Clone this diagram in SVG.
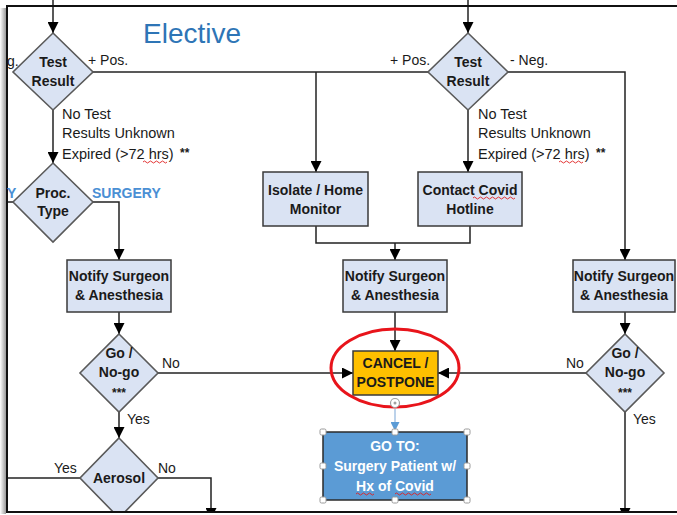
<svg xmlns="http://www.w3.org/2000/svg" width="677" height="515" viewBox="0 0 677 515">
<defs>
<style>
.box{fill:#DAE3F3;stroke:#3a3a3a;stroke-width:1.5}
.dia{fill:#DAE3F3;stroke:#595959;stroke-width:1.6}
.c{fill:none;stroke:#222;stroke-width:1.5}
.b{font-family:"Liberation Sans",Arial,sans-serif;font-weight:bold;font-size:14px;fill:#1a1a1a;text-anchor:middle}
.t{font-family:"Liberation Sans",Arial,sans-serif;font-size:14px;fill:#1a1a1a}
.tl{font-family:"Liberation Sans",Arial,sans-serif;font-size:14.5px;fill:#1a1a1a}
.ast{font-family:"Liberation Sans",Arial,sans-serif;font-weight:bold;font-size:12px;fill:#1a1a1a}
.sq{fill:none;stroke:#e02020;stroke-width:0.9}
.h{fill:#fff;stroke:#9a9a9a;stroke-width:1}
</style>
<marker id="ah" viewBox="0 0 10 10" refX="10" refY="5" markerWidth="11" markerHeight="11" markerUnits="userSpaceOnUse" orient="auto">
<path d="M0,0 L10,5 L0,10 z" fill="#000"/>
</marker>
<marker id="ahb" viewBox="0 0 10 10" refX="10" refY="5" markerWidth="9" markerHeight="9" markerUnits="userSpaceOnUse" orient="auto">
<path d="M0,0 L10,5 L0,10 z" fill="#5B9BD5"/>
</marker>
<linearGradient id="shadow" x1="0" y1="0" x2="1" y2="0">
<stop offset="0" stop-color="#ffffff"/>
<stop offset="1" stop-color="#9a9a9a"/>
</linearGradient>
</defs>
<rect width="677" height="515" fill="#fff"/>

<g id="connectors">
<path class="c" d="M53,0 V33" marker-end="url(#ah)"/>
<path class="c" d="M468,0 V33" marker-end="url(#ah)"/>
<path class="c" d="M93,72 H428"/>
<path class="c" d="M316,72 V172" marker-end="url(#ah)"/>
<path class="c" d="M508,72 H625 V260" marker-end="url(#ah)"/>
<path class="c" d="M53,110 V163" marker-end="url(#ah)"/>
<path class="c" d="M468,110 V172" marker-end="url(#ah)"/>
<path class="c" d="M316,226 V243 H470 V226"/>
<path class="c" d="M395,243 V260" marker-end="url(#ah)"/>
<path class="c" d="M93,202 H119 V260" marker-end="url(#ah)"/>
<path class="c" d="M7,202 H13"/>
<path class="c" d="M119,312 V334" marker-end="url(#ah)"/>
<path class="c" d="M158,373 H353" marker-end="url(#ah)"/>
<path class="c" d="M119,412 V438" marker-end="url(#ah)"/>
<path class="c" d="M80,478 H7"/>
<path class="c" d="M158,478 H211 V519" marker-end="url(#ah)"/>
<path class="c" d="M395,312 V351" marker-end="url(#ah)"/>
<path class="c" d="M625,312 V334" marker-end="url(#ah)"/>
<path class="c" d="M586,373 H438" marker-end="url(#ah)"/>
<path class="c" d="M625,412 V519" marker-end="url(#ah)"/>
<path d="M395,409 V431" fill="none" stroke="#8fb4dd" stroke-width="1.2" marker-end="url(#ahb)"/>
</g>

<g id="title">
<text x="143" y="43" font-family="'Liberation Sans',Arial,sans-serif" font-size="28" fill="#2E75B6">Elective</text>
</g>

<g id="test-result-left">
<polygon class="dia" points="53,33 93,72 53,110 13,72"/>
<text class="b" x="53" y="67">Test</text>
<text class="b" x="53" y="86">Result</text>
<text class="t" x="88" y="65">+ Pos.</text>
<text class="tl" x="62" y="119">No Test</text>
<text class="tl" x="62" y="138">Results Unknown</text>
<text class="tl" x="62" y="159">Expired (&gt;72 hrs)</text>
<text class="ast" x="180" y="157">**</text>
<path class="sq" d="M143,162 q1.5,-2 3,0 t3,0 t3,0 t3,0 t3,0 t3,0 t3,0 t3,0"/>
</g>

<g id="test-result-right">
<polygon class="dia" points="468,33 508,72 468,110 428,72"/>
<text class="b" x="468" y="67">Test</text>
<text class="b" x="468" y="86">Result</text>
<text class="t" x="390" y="65">+ Pos.</text>
<text class="t" x="510" y="65">- Neg.</text>
<text class="tl" x="478" y="119">No Test</text>
<text class="tl" x="478" y="138">Results Unknown</text>
<text class="tl" x="478" y="159">Expired (&gt;72 hrs)</text>
<text class="ast" x="596" y="157">**</text>
<path class="sq" d="M559,162 q1.5,-2 3,0 t3,0 t3,0 t3,0 t3,0 t3,0 t3,0 t3,0"/>
</g>

<g id="proc-type">
<polygon class="dia" points="53,163 93,202 53,242 13,202"/>
<text class="b" x="53" y="198">Proc.</text>
<text class="b" x="53" y="216">Type</text>
<text x="92" y="198" font-family="'Liberation Sans',Arial,sans-serif" font-weight="bold" font-size="14" fill="#4A8FD4">SURGERY</text>
</g>

<g id="isolate">
<rect class="box" x="263" y="172" width="105" height="54"/>
<text class="b" x="315.5" y="195">Isolate / Home</text>
<text class="b" x="315.5" y="214">Monitor</text>
</g>

<g id="contact-hotline">
<rect class="box" x="418" y="172" width="104" height="54"/>
<text class="b" x="470" y="195">Contact Covid</text>
<text class="b" x="470" y="214">Hotline</text>
<path class="sq" d="M473,198 q1.5,-2 3,0 t3,0 t3,0 t3,0 t3,0 t3,0 t3,0 t3,0 t3,0 t3,0 t3,0 t3,0 t3,0 t3,0"/>
</g>

<g id="notify-left">
<rect class="box" x="67" y="260" width="104" height="52"/>
<text class="b" x="119" y="281">Notify Surgeon</text>
<text class="b" x="119" y="300">&amp; Anesthesia</text>
</g>

<g id="notify-mid">
<rect class="box" x="343" y="260" width="104" height="52"/>
<text class="b" x="395" y="281">Notify Surgeon</text>
<text class="b" x="395" y="300">&amp; Anesthesia</text>
</g>

<g id="notify-right">
<rect class="box" x="573" y="260" width="102" height="52"/>
<text class="b" x="624" y="281">Notify Surgeon</text>
<text class="b" x="624" y="300">&amp; Anesthesia</text>
</g>

<g id="go-nogo-left">
<polygon class="dia" points="119,334 158,373 119,412 80,373"/>
<text class="b" x="119" y="358">Go /</text>
<text class="b" x="119" y="377">No-go</text>
<text class="ast" x="119" y="397" text-anchor="middle">***</text>
<text class="t" x="162" y="368">No</text>
<text class="t" x="127" y="424">Yes</text>
</g>

<g id="go-nogo-right">
<polygon class="dia" points="625,334 664,373 625,412 586,373"/>
<text class="b" x="625" y="358">Go /</text>
<text class="b" x="625" y="377">No-go</text>
<text class="ast" x="625" y="397" text-anchor="middle">***</text>
<text class="t" x="566" y="368">No</text>
<text class="t" x="633" y="424">Yes</text>
</g>

<g id="aerosol">
<polygon class="dia" points="119,438 158,478 119,518 80,478"/>
<text class="b" x="119" y="483">Aerosol</text>
<text class="t" x="54" y="473">Yes</text>
<text class="t" x="158" y="473">No</text>
</g>

<g id="cancel">
<rect x="353" y="351" width="85" height="44" fill="#FFC000" stroke="#3a3a3a" stroke-width="1.5"/>
<text class="b" x="395.5" y="368">CANCEL /</text>
<text class="b" x="395.5" y="387">POSTPONE</text>
<ellipse cx="395" cy="368" rx="64" ry="39" fill="none" stroke="#E8141B" stroke-width="3"/>
</g>

<g id="goto">
<rect x="323" y="432" width="144" height="68" fill="#5B9BD5" stroke="#2b2b2b" stroke-width="1.5"/>
<text class="b" x="395" y="451" style="fill:#fff">GO TO:</text>
<text class="b" x="395" y="471" style="fill:#fff">Surgery Patient w/</text>
<text class="b" x="395" y="491" style="fill:#fff">Hx of Covid</text>
<path class="sq" d="M356,494 q1.5,-2 3,0 t3,0 t3,0 t3,0 t3,0 t3,0"/>
<path class="sq" d="M395,494 q1.5,-2 3,0 t3,0 t3,0 t3,0 t3,0 t3,0 t3,0 t3,0 t3,0 t3,0 t3,0 t3,0"/>
<circle cx="395" cy="403" r="4.5" fill="#fff" stroke="#a0a0a0" stroke-width="1.2"/>
<circle cx="395" cy="403" r="1.5" fill="#a0a0a0"/>
<rect class="h" x="320" y="429" width="6" height="6" rx="1.5"/>
<rect class="h" x="392" y="429" width="6" height="6" rx="1.5"/>
<rect class="h" x="464" y="429" width="6" height="6" rx="1.5"/>
<rect class="h" x="320" y="463" width="6" height="6" rx="1.5"/>
<rect class="h" x="464" y="463" width="6" height="6" rx="1.5"/>
<rect class="h" x="320" y="497" width="6" height="6" rx="1.5"/>
<rect class="h" x="392" y="497" width="6" height="6" rx="1.5"/>
<rect class="h" x="464" y="497" width="6" height="6" rx="1.5"/>
</g>

<g id="frame">
<rect x="0" y="513" width="677" height="2" fill="#fff"/>
<rect x="0" y="8" width="6" height="506" fill="url(#shadow)"/>
<path d="M7,6 H677 M7,5 V513 M6,512 H677" fill="none" stroke="#111" stroke-width="2"/>
</g>

<g id="edge-labels">
<text class="t" x="7" y="66">g.</text>
<text x="7" y="198" font-family="'Liberation Sans',Arial,sans-serif" font-weight="bold" font-size="14" fill="#4A8FD4">Y</text>
</g>
</svg>
